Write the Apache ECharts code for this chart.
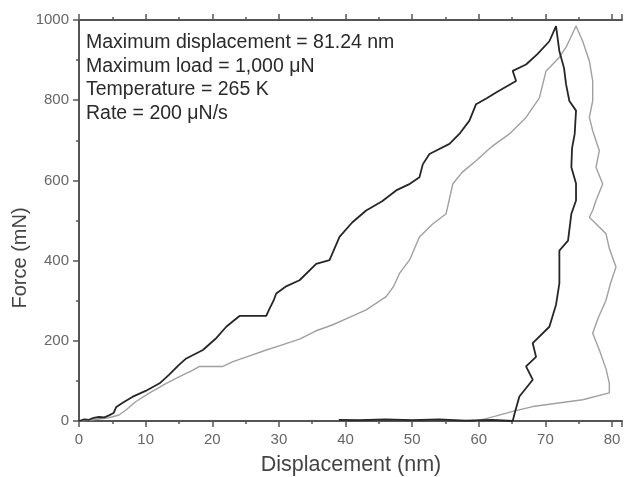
<!DOCTYPE html>
<html>
<head>
<meta charset="utf-8">
<script src="https://cdn.jsdelivr.net/npm/echarts@6/dist/echarts.min.js"></script>
<style>
  html, body { margin: 0; padding: 0; background: #fff; }
  #chart { width: 625px; height: 477px; }
</style>
</head>
<body>
<div id="chart"></div>
<script>
// 数据: 位移(nm) / 力
var darkDisp = [0, 0.8, 1.5, 2.2, 3, 3.8, 4.5, 5.2, 5.6, 6.5, 8, 10, 12.1, 13.5, 15, 16.1, 18.6, 20.5, 22.1, 23.2, 24.1, 26, 28.1, 28.6, 29.2, 29.6, 31, 33.1, 35.6, 37.6, 39.1, 41, 43.1, 45.5, 47.6, 49.5, 51.1, 51.6, 52.6, 55.6, 57.2, 58.6, 59.6, 61.2, 62.6, 65.6, 65.1, 67.1, 68.8, 70.6, 71.6,
  72.1, 72.8, 73.1, 73.6, 74.6, 74.4, 74.0, 73.9, 74.6, 74.6, 73.9, 73.4, 72.1, 72.1, 71.6, 70.6, 68.1, 68.6, 67.1, 68.1, 66.1, 65.4, 65.1,
  62, 58, 54, 50, 46, 42, 39]
var darkForce = [0, 4, 3, 8, 10, 9, 14, 20, 35, 45, 60, 75, 94, 115, 140, 156, 177, 205, 235, 250, 262, 262, 262, 280, 300, 318, 335, 351, 392, 401, 459, 495, 525, 548, 575, 590, 608, 640, 666, 691, 718, 749, 790, 805, 819, 848, 873, 889, 915, 947, 985,
  922, 880, 840, 798, 774, 716, 680, 633, 592, 550, 517, 450, 425, 343, 290, 235, 194, 160, 136, 103, 61, 20, 0,
  3, 1, 4, 2, 4, 2, 3]

var grayDisp = [0, 1.5, 3, 4.5, 6, 7.1, 8.5, 10.6, 13.1, 15, 17.1, 18.1, 20, 21.6, 23.1, 25.5, 28.1, 30.5, 33.1, 35.6, 38.1, 40.5, 43.1, 46.1, 47.2, 48.1, 49.6, 51.1, 53, 55.1, 56.1, 57.5, 59.6, 62, 64.6, 67.1, 69.1, 70.1, 70.6, 72, 73.2, 74.6,
  75.6, 76.6, 77.1, 77.1, 76.6, 77.1, 78.1, 77.6, 78.6, 77.6, 77.1, 76.6, 79.1, 79.6, 80.6, 79.8, 79.1, 78, 77.1, 78.1, 79.1, 79.6, 79.6, 75.6, 68.1, 65.1, 62.5, 61.1, 59.6]
var grayForce = [0, 2, 5, 8, 15, 28, 48, 70, 94, 110, 127, 136, 136, 136, 148, 162, 177, 190, 204, 225, 240, 258, 277, 310, 335, 368, 401, 459, 490, 517, 591, 620, 649, 685, 716, 757, 806, 873, 881, 905, 935, 985,
  947, 898, 848, 798, 757, 724, 674, 633, 591, 550, 525, 508, 467, 430, 384, 345, 301, 260, 219, 177, 130, 94, 70, 53, 36, 24, 12, 6, 0]

var xTicks = [0, 10, 20, 30, 40, 50, 60, 70, 80]
var yTicks = [0, 200, 400, 600, 800, 1000]

var infoLines = [
  'Maximum displacement = 81.24 nm',
  'Maximum load = 1,000 μN',
  'Temperature = 265 K',
  'Rate = 200 μN/s'
]

function pairs(xs, ys) {
  var out = []
  xs.forEach(function (x, i) { out.push([x, ys[i]]) })
  return out
}

var axisColor = '#555'
var font = 'Liberation Sans, Arial, sans-serif'

function xAxisCfg(pos) {
  return {
    type: 'value',
    position: pos,
    min: xTicks[0],
    max: 81.5,
    interval: 10,
    axisLine: { show: true, lineStyle: { color: axisColor, width: 2 } },
    axisTick: { show: true, inside: false, length: 6, lineStyle: { color: axisColor, width: 1.5 } },
    minorTick: { show: true, splitNumber: 2, length: 3, lineStyle: { color: axisColor, width: 1.5 } },
    axisLabel: {
      show: pos === 'bottom', margin: 11, color: '#666', fontSize: 15, fontFamily: font,
      formatter: function (v) { return xTicks.indexOf(v) >= 0 ? String(v) : '' }
    },
    splitLine: { show: false }
  }
}

var option = {
  animation: false,
  backgroundColor: '#fff',
  grid: { left: 79, right: 3, top: 20, bottom: 56 },
  xAxis: [xAxisCfg('bottom'), xAxisCfg('top')],
  yAxis: {
    type: 'value',
    min: yTicks[0],
    max: yTicks[yTicks.length - 1],
    interval: 200,
    axisLine: { show: true, lineStyle: { color: axisColor, width: 2 } },
    axisTick: { show: true, inside: false, length: 6, lineStyle: { color: axisColor, width: 1.5 } },
    minorTick: { show: true, splitNumber: 2, length: 3, lineStyle: { color: axisColor, width: 1.5 } },
    axisLabel: {
      margin: 10, color: '#666', fontSize: 15, fontFamily: font,
      formatter: function (v) { return String(v) }
    },
    splitLine: { show: false }
  },
  graphic: [
    {
      type: 'text', left: 86, top: 31,
      style: { text: infoLines.join('\n'), fill: '#2a2a2a', font: '19.5px ' + font, lineHeight: 23.5 }
    },
    {
      type: 'text', x: 351, y: 465,
      style: { text: 'Displacement (nm)', fill: '#444', font: '21.5px ' + font, align: 'center', verticalAlign: 'middle' }
    },
    {
      type: 'text', x: 20, y: 258, rotation: Math.PI / 2,
      style: { text: 'Force (mN)', fill: '#444', font: '20px ' + font, align: 'center', verticalAlign: 'middle' }
    }
  ],
  series: [
    {
      type: 'line', xAxisIndex: 0, data: pairs(grayDisp, grayForce),
      showSymbol: false, lineStyle: { color: '#a0a0a0', width: 1.4 }, z: 2
    },
    {
      type: 'line', xAxisIndex: 0, data: pairs(darkDisp, darkForce),
      showSymbol: false, lineStyle: { color: '#262626', width: 1.8 }, z: 3
    }
  ]
}

var chartObj = echarts.init(document.getElementById('chart'))
chartObj.setOption(option)
</script>
</body>
</html>
